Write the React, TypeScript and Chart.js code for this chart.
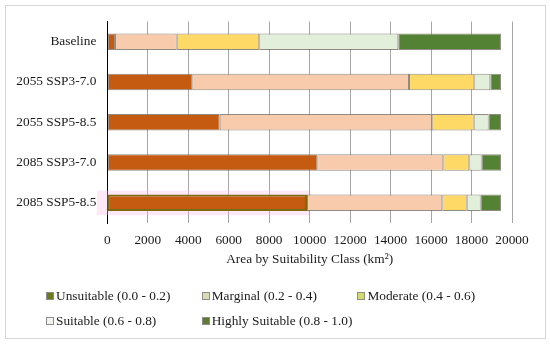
import React, { useEffect, useRef } from "react";
import { Chart, registerables } from "chart.js";

Chart.register(...registerables);

const categories = ["Baseline", "2055 SSP3-7.0", "2055 SSP5-8.5", "2085 SSP3-7.0", "2085 SSP5-8.5"];
const unsuitable = [380, 4200, 5555, 10378, 9869];
const marginal = [3050, 10710, 10476, 6227, 6687];
const moderate = [4080, 3227, 2076, 1285, 1206];
const suitable = [6870, 791, 741, 613, 692];
const highlySuitable = [5075, 528, 608, 953, 1002];
const seriesNames = [
  "Unsuitable (0.0 - 0.2)",
  "Marginal (0.2 - 0.4)",
  "Moderate (0.4 - 0.6)",
  "Suitable (0.6 - 0.8)",
  "Highly Suitable (0.8 - 1.0)",
];
const xMin = 0;
const xMax = 20000;
const xStep = 2000;
const axisTitle = "Area by Suitability Class (km²)";

const barColors = ["#C55A11", "#F8CBAD", "#FFD966", "#E2EFDA", "#548235"];
const legendSwatch = ["#6b7a1e", "#dcdcb4", "#d4dc6c", "#f2f2ee", "#5f7a33"];
const FONT = '"Liberation Serif", "Times New Roman", serif';
const TEXT = "#1a1a1a";

const haloPlugin = {
  id: "halo",
  beforeDatasetsDraw(chart: any) {
    const meta = chart.getDatasetMeta(0);
    const el = meta && meta.data[categories.length - 1];
    if (!el) return;
    const { x, y, base, height } = el.getProps(["x", "y", "base", "height"], true);
    const ctx = chart.ctx;
    ctx.save();
    ctx.fillStyle = "rgba(255, 190, 230, 0.35)";
    ctx.fillRect(base - 11, y - height / 2 - 4, x - base + 13, height + 8);
    ctx.restore();
  },
};

export default function App() {
  const ref = useRef<HTMLCanvasElement | null>(null);

  useEffect(() => {
    document.body.style.margin = "0";
    const canvas = ref.current;
    if (!canvas) return;
    const seriesValues = [unsuitable, marginal, moderate, suitable, highlySuitable];
    const n = categories.length;
    const chart = new Chart(canvas, {
      type: "bar",
      data: {
        labels: categories,
        datasets: seriesValues.map((vals, i) => ({
          label: seriesNames[i],
          data: vals,
          backgroundColor: barColors[i],
          borderColor:
            i === 0
              ? vals.map((_, j) => (j === n - 1 ? "#7a6b12" : "rgba(110,100,90,0.75)"))
              : "rgba(110,100,90,0.75)",
          borderWidth: i === 0 ? vals.map((_, j) => (j === n - 1 ? 2 : 1)) : 1,
          borderSkipped: false,
          barPercentage: 0.41,
          categoryPercentage: 1,
        })),
      },
      options: {
        indexAxis: "y",
        responsive: false,
        animation: false,
        devicePixelRatio: 1,
        layout: { padding: { left: 0, right: 38, top: 21.5, bottom: 73 } },
        plugins: {
          legend: { display: false },
          tooltip: { enabled: false },
        },
        scales: {
          x: {
            stacked: true,
            min: xMin,
            max: xMax,
            ticks: {
              stepSize: xStep,
              padding: 9,
              color: TEXT,
              font: { family: FONT, size: 13.33 },
              maxRotation: 0,
              callback: (v: any) => String(v),
            },
            grid: {
              color: (c: any) => (c.tick && c.tick.value === 0 ? "#000" : "#a6a6a6"),
              lineWidth: 1,
              drawTicks: false,
            },
            border: { display: false },
            title: {
              display: true,
              text: axisTitle,
              color: TEXT,
              font: { family: FONT, size: 13.33 },
              padding: { top: 0, bottom: 4 },
            },
            afterFit(scale: any) {
              scale.height = 48;
            },
          },
          y: {
            stacked: true,
            ticks: {
              padding: 11,
              color: TEXT,
              font: { family: FONT, size: 13.33 },
            },
            grid: { display: false, drawTicks: false },
            border: { display: true, color: "#000", width: 1 },
            afterFit(scale: any) {
              scale.width = 107.3;
            },
          },
        },
      },
      plugins: [haloPlugin],
    } as any);
    return () => chart.destroy();
  }, []);

  const colW = 155.7;
  const legendLeft = 46;
  const rowTops = [288, 313];
  const perRow = 3;

  return (
    <div style={{ position: "relative", width: 550, height: 344, background: "#fff", overflow: "hidden" }}>
      <div
        style={{
          position: "absolute",
          left: 5,
          top: 5,
          width: 539,
          height: 332,
          border: "1px solid #d6d6d6",
        }}
      />
      <canvas ref={ref} width={550} height={344} style={{ position: "absolute", left: 0, top: 0, width: 550, height: 344 }} />
      {seriesNames.map((name, i) => {
        const row = Math.floor(i / perRow);
        const col = i % perRow;
        return (
          <div
            key={name}
            style={{
              position: "absolute",
              left: legendLeft + col * colW,
              top: rowTops[row],
              height: 16,
              display: "flex",
              alignItems: "center",
              fontFamily: FONT,
              fontSize: 13.33,
              lineHeight: "16px",
              color: TEXT,
              whiteSpace: "nowrap",
            }}
          >
            <span
              style={{
                display: "inline-block",
                width: 6,
                height: 6,
                background: legendSwatch[i],
                border: "1px solid #8c8c8c",
                marginRight: 2,
              }}
            />
            <span>{name}</span>
          </div>
        );
      })}
    </div>
  );
}
